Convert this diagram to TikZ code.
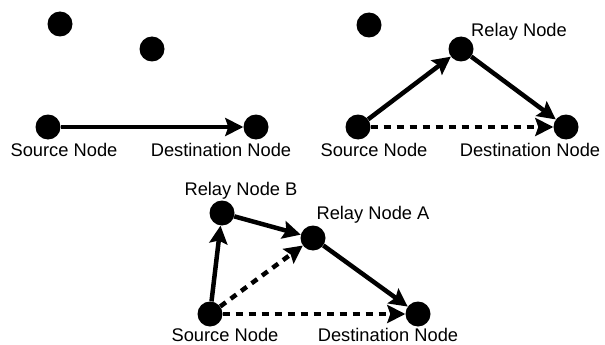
\documentclass[tikz,border=0pt]{standalone}
\usepackage{fontspec}
\setmainfont{Liberation Sans}
\usetikzlibrary{arrows.meta}
\begin{document}
\begin{tikzpicture}[x=1pt,y=-1pt,
  dot/.style={circle,fill=black,inner sep=0pt,minimum size=25pt},
  lbl/.style={font=\fontsize{18.3}{20}\selectfont,inner sep=0pt},
  link/.style={line width=4.5pt,-{Stealth[length=18pt,width=18pt,inset=3pt]}},
  dlink/.style={link,dash pattern=on 7pt off 6pt}]
\useasboundingbox (0,0) rectangle (605,345);
% panel 1
\node[dot] (p1x) at (60,24) {};
\node[dot] (p1y) at (152,49) {};
\node[dot] (p1s) at (48,127) {};
\node[dot] (p1d) at (256,127) {};
\node[lbl] (p1sl) at (64,150) {Source Node};
\node[lbl] (p1dl) at (221,150) {Destination Node};
\draw[link] (p1s) -- (p1d);
% panel 2
\node[dot] (p2x) at (369,25) {};
\node[dot] (p2r) at (461,49) {};
\node[dot] (p2s) at (358,127) {};
\node[dot] (p2d) at (566,127) {};
\node[lbl] (p2rl) at (519,32) {Relay Node};
\node[lbl] (p2sl) at (374,150) {Source Node};
\node[lbl] (p2dl) at (530,150) {Destination Node};
\draw[link] (p2s) -- (p2r);
\draw[link] (p2r) -- (p2d);
\draw[dlink] (p2s) -- (p2d);
% panel 3
\node[dot] (p3b) at (222,213) {};
\node[dot] (p3a) at (313,238) {};
\node[dot] (p3s) at (210,314) {};
\node[dot] (p3d) at (418,314) {};
\node[lbl] (p3bl) at (241,191) {Relay Node B};
\node[lbl] (p3al) at (373,215) {Relay Node A};
\node[lbl] (p3sl) at (225,335) {Source Node};
\node[lbl] (p3dl) at (388,335) {Destination Node};
\draw[link] (p3s) -- (p3b);
\draw[link] (p3b) -- (p3a);
\draw[link] (p3a) -- (p3d);
\draw[dlink] (p3s) -- (p3a);
\draw[dlink] (p3s) -- (p3d);
\end{tikzpicture}
\end{document}
